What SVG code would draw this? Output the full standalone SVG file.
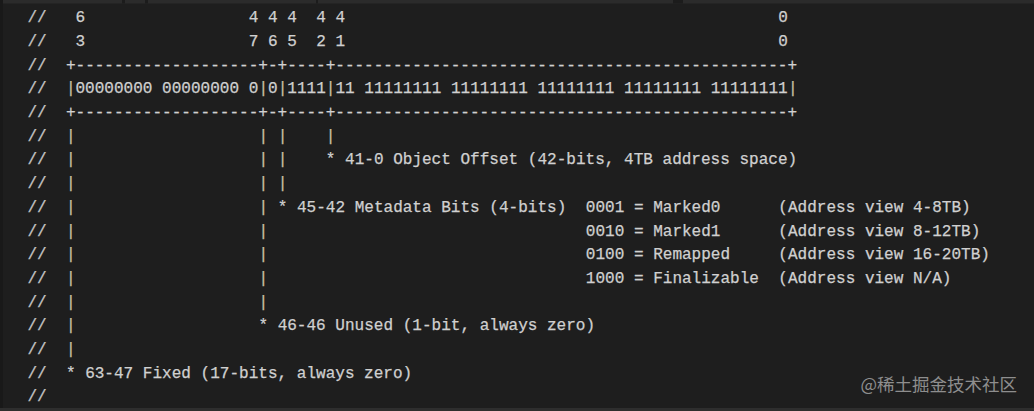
<svg xmlns="http://www.w3.org/2000/svg" width="1034" height="411" viewBox="0 0 1034 411">
<style>
text { font-family: "Liberation Mono", "DejaVu Sans Mono", monospace; font-size: 16.05px; fill: #d0d0d0; stroke: #d0d0d0; stroke-width: 0.25px; white-space: pre; }
.c { fill: #c4c4c4; stroke: #c4c4c4; }
.p { fill: #c9c0a2; stroke: #c9c0a2; }
.wm { font-family: "Noto Sans CJK SC", "Noto Sans", sans-serif; font-size: 17.5px; fill: #8e8e8e; stroke: none; }
</style>
<rect x="0" y="0" width="1034" height="411" fill="#1e1e1e"/>
<g id="frame">
<rect x="0" y="0" width="1034" height="3.5" fill="#2b2b2b"/>
<rect x="122" y="0" width="3" height="3.5" fill="#1c1c1c"/>
<rect x="145" y="0" width="3" height="3.5" fill="#1c1c1c"/>
<rect x="316" y="0" width="2" height="3.5" fill="#1c1c1c"/>
<rect x="673" y="0" width="10" height="3.5" fill="#1c1c1c"/>
<rect x="0" y="0" width="3" height="411" fill="#191919"/>
<rect x="0" y="408" width="1034" height="3" fill="#2e2e2e"/>
</g>
<g id="code" xml:space="preserve">
<text y="22.2"><tspan class="c" x="27.4">//</tspan><tspan x="75.5">6</tspan><tspan x="248.8">4 4 4</tspan><tspan x="316.2">4 4</tspan><tspan x="778.3">0</tspan></text>
<text y="45.9"><tspan class="c" x="27.4">//</tspan><tspan x="75.5">3</tspan><tspan x="248.8">7 6 5</tspan><tspan x="316.2">2 1</tspan><tspan x="778.3">0</tspan></text>
<text y="69.6"><tspan class="c" x="27.4">//</tspan><tspan x="65.9">+-------------------+-+----+-----------------------------------------------+</tspan></text>
<text y="93.3"><tspan class="c" x="27.4">//</tspan><tspan class="p" x="65.9">|</tspan><tspan x="75.5">00000000 00000000 0</tspan><tspan class="p" x="258.4">|</tspan><tspan x="268.1">0</tspan><tspan class="p" x="277.7">|</tspan><tspan x="287.3">1111</tspan><tspan class="p" x="325.8">|</tspan><tspan x="335.5">11 11111111 11111111 11111111 11111111 11111111</tspan><tspan class="p" x="787.9">|</tspan></text>
<text y="117.0"><tspan class="c" x="27.4">//</tspan><tspan x="65.9">+-------------------+-+----+-----------------------------------------------+</tspan></text>
<text y="140.7"><tspan class="c" x="27.4">//</tspan><tspan class="p" x="65.9">|</tspan><tspan class="p" x="258.4">|</tspan><tspan class="p" x="277.7">|</tspan><tspan class="p" x="325.8">|</tspan></text>
<text y="164.4"><tspan class="c" x="27.4">//</tspan><tspan class="p" x="65.9">|</tspan><tspan class="p" x="258.4">|</tspan><tspan class="p" x="277.7">|</tspan><tspan x="325.8">* 41-0 Object Offset (42-bits, 4TB address space)</tspan></text>
<text y="188.1"><tspan class="c" x="27.4">//</tspan><tspan class="p" x="65.9">|</tspan><tspan class="p" x="258.4">|</tspan><tspan class="p" x="277.7">|</tspan></text>
<text y="211.8"><tspan class="c" x="27.4">//</tspan><tspan class="p" x="65.9">|</tspan><tspan class="p" x="258.4">|</tspan><tspan x="277.7">* 45-42 Metadata Bits (4-bits)</tspan><tspan x="585.8">0001 = Marked0</tspan><tspan x="778.3">(Address view 4-8TB)</tspan></text>
<text y="235.5"><tspan class="c" x="27.4">//</tspan><tspan class="p" x="65.9">|</tspan><tspan class="p" x="258.4">|</tspan><tspan x="585.8">0010 = Marked1</tspan><tspan x="778.3">(Address view 8-12TB)</tspan></text>
<text y="259.2"><tspan class="c" x="27.4">//</tspan><tspan class="p" x="65.9">|</tspan><tspan class="p" x="258.4">|</tspan><tspan x="585.8">0100 = Remapped</tspan><tspan x="778.3">(Address view 16-20TB)</tspan></text>
<text y="282.9"><tspan class="c" x="27.4">//</tspan><tspan class="p" x="65.9">|</tspan><tspan class="p" x="258.4">|</tspan><tspan x="585.8">1000 = Finalizable</tspan><tspan x="778.3">(Address view N/A)</tspan></text>
<text y="306.6"><tspan class="c" x="27.4">//</tspan><tspan class="p" x="65.9">|</tspan><tspan class="p" x="258.4">|</tspan></text>
<text y="330.3"><tspan class="c" x="27.4">//</tspan><tspan class="p" x="65.9">|</tspan><tspan x="258.4">* 46-46 Unused (1-bit, always zero)</tspan></text>
<text y="354.0"><tspan class="c" x="27.4">//</tspan><tspan class="p" x="65.9">|</tspan></text>
<text y="377.7"><tspan class="c" x="27.4">//</tspan><tspan x="65.9">* 63-47 Fixed (17-bits, always zero)</tspan></text>
<text y="401.4"><tspan class="c" x="27.4">//</tspan></text>
</g>
<g id="watermark">
<text class="wm" x="1017" y="391" text-anchor="end">@稀土掘金技术社区</text>
</g>
</svg>
